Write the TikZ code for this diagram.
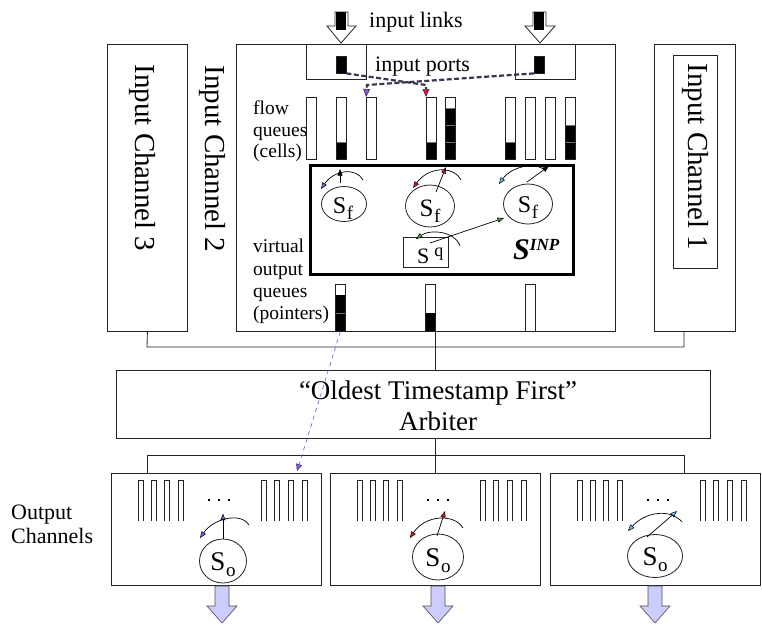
\documentclass[tikz,border=0pt]{standalone}
\usepackage{fontspec}
\setmainfont{Liberation Serif}
\usetikzlibrary{arrows.meta,shapes.geometric,calc}

\definecolor{vpurple}{HTML}{8B55E6}
\definecolor{vred}{HTML}{E3122E}
\definecolor{vblue}{HTML}{6EC6F2}
\definecolor{vgreen}{HTML}{35A235}
\definecolor{lavender}{HTML}{CCCCFF}
\definecolor{dashgray}{HTML}{3B3552}
\definecolor{frame}{HTML}{222222}

\newcommand{\fsz}[1]{\fontsize{#1}{#1}\selectfont}
% scheduler symbol: large S with a lowered index letter
\newcommand{\schedsym}[3]{{\fsz{#1}S}\kern0.5pt\raisebox{-6pt}{\fsz{#2}#3}}

\begin{document}
\begin{tikzpicture}[x=1pt,y=-1pt,
  box/.style={draw=frame, line width=0.8pt, inner sep=0pt, anchor=north west},
  chlabel/.style={inner sep=0pt, rotate=-90, font=\fsz{29}},
  qbar/.style={draw=frame, line width=0.7pt, inner sep=0pt, anchor=north west, minimum width=10pt},
  sched/.style={draw=frame, ellipse, line width=0.8pt, inner sep=0pt},
  thinarrow/.style={line width=0.7pt, -{Triangle[length=6.5pt, width=5pt, line width=0.5pt, color=black, fill=#1]}},
  portdash/.style={dashgray, line width=2.2pt, dash pattern=on 5pt off 2.5pt,
     -{Triangle[length=8pt, width=7pt, line width=0.6pt, fill=#1]}},
  linkarrow/.style={draw=frame, fill=white, line width=0.8pt},
  outarrow/.style={draw=black!70, fill=lavender, line width=0.6pt},
]
\useasboundingbox (0,0) rectangle (762,635);

% ---------------- input channels ----------------
\node[box, minimum width=80pt, minimum height=287pt] (ch3) at (107,44) {};
\node[box, minimum width=379pt, minimum height=287pt] (ch2) at (236,44) {};
\node[box, minimum width=81pt, minimum height=287pt] (ch1) at (654,44) {};
\node[box, minimum width=44pt, minimum height=213pt] (ch1in) at (673,55) {};
\node[chlabel] (ch3t) at (142,158) {Input Channel 3};
\node[chlabel] (ch2t) at (212,159) {Input Channel 2};
\node[chlabel] (ch1t) at (695,157) {Input Channel 1};

% input ports and links
\node[box, minimum width=60pt, minimum height=35pt] (portL) at (306,44) {};
\node[box, minimum width=60pt, minimum height=35pt] (portR) at (515,44) {};
\node[fill=black, draw=frame, inner sep=0pt, minimum width=10pt, minimum height=17pt, anchor=north west] (pinL) at (336,56) {};
\node[fill=black, draw=frame, inner sep=0pt, minimum width=10pt, minimum height=17pt, anchor=north west] (pinR) at (534,56) {};

\draw[linkarrow] (335,12) -- (348,12) -- (348,26) -- (356,26) -- (341,43) -- (327,26) -- (335,26) -- cycle;
\fill[black] (335.5,12) rectangle (346,30);
\draw[linkarrow] (533,12) -- (546,12) -- (546,26) -- (555,26) -- (540,43) -- (525,26) -- (533,26) -- cycle;
\fill[black] (533.5,12) rectangle (544,30);

\node[inner sep=0pt, anchor=base west, font=\fsz{22}] (linkt) at (369,27) {input links};
\node[inner sep=0pt, anchor=base west, font=\fsz{22}] (portt) at (375,71) {input ports};

% ---------------- flow queues ----------------
\node[inner sep=0pt, anchor=north west, align=left, font=\fontsize{19.5}{21.5}\selectfont] (fqt) at (253,101) {flow\\queues\\(cells)};

\foreach \x/\n [count=\i] in {306/0,336/1,366/0,426/1,445/3,505/1,525/0,545/0,565/2} {
  \ifnum\n>0
    \foreach \k in {1,...,\n} {
      \fill[black] (\x,{159-17*\k}) rectangle ({\x+10},{159-17*(\k-1)});
      \draw[black!55, line width=0.5pt] (\x,{159-17*\k}) -- ({\x+10},{159-17*\k});
    }
  \fi
  \node[qbar, minimum height=62pt] (fq\i) at (\x,97) {};
}

% dashed paths from the input ports to their flow queues
\draw[portdash=vpurple] (pinR.south west) -- (367,85) -- (fq3.north west);
\draw[portdash=vred] (pinL.south east) -- (426,85) -- (fq4.north west);

% ---------------- input scheduler block ----------------
\node[draw=black, line width=2.5pt, inner sep=0pt, minimum width=263pt, minimum height=109pt, anchor=north west] (sinp) at (309,164) {};
\node[inner sep=0pt, anchor=base west] (sinpt) at (513,259) {\fsz{30}\bfseries\itshape S\raisebox{9pt}{\fsz{17}INP}};

\node[sched, minimum width=45pt, minimum height=35pt] (sf1) at (344,204) {};
\node[sched, minimum width=49pt, minimum height=42pt] (sf2) at (430,206) {};
\node[sched, minimum width=49pt, minimum height=40pt] (sf3) at (528,204) {};
\node[inner sep=0pt] (sf1t) at ($(sf1)+(-1,5)$) {\schedsym{24}{19}{f}};
\node[inner sep=0pt] (sf2t) at ($(sf2)+(0,5)$) {\schedsym{25}{19}{f}};
\node[inner sep=0pt] (sf3t) at ($(sf3)+(0,4)$) {\schedsym{24}{19}{f}};

\node[box, minimum width=45pt, minimum height=30pt] (sq) at (403,237) {};
\node[inner sep=0pt, anchor=base west] (sqt) at (417,263) {{\fsz{22}S}\hspace{5pt}\raisebox{7pt}{\fsz{18}q}};

% selection arrows inside the scheduler block
\coordinate (a1s) at (340,183);  \coordinate (a1e) at (340,169);
\coordinate (c1s) at (363,180);  \coordinate (c1e) at (321,189);
\draw[thinarrow=black] (a1s) -- (a1e);
\draw[thinarrow=vpurple] (c1s) .. controls (356,167) and (334,170) .. (c1e);

\coordinate (a2s) at (436,192);  \coordinate (a2e) at (446,167);
\coordinate (c2s) at (461,180);  \coordinate (c2e) at (413,188);
\draw[thinarrow=vred] (a2s) -- (a2e);
\draw[thinarrow=vred] (c2s) .. controls (453,165) and (428,167) .. (c2e);

\coordinate (a3s) at (527,182);  \coordinate (a3e) at (549,166);
\coordinate (c3s) at (545,170);  \coordinate (c3e) at (499,184);
\draw[thinarrow=black] (a3s) -- (a3e);
\draw[thinarrow=vblue] (c3s) .. controls (535,162) and (512,166) .. (c3e);

\coordinate (aqs) at (430,243);  \coordinate (aqe) at (504,218);
\coordinate (cqs) at (460,246);  \coordinate (cqe) at (416,239);
\draw[thinarrow=vgreen] (aqs) -- (aqe);
\draw[thinarrow=vgreen] (cqs) .. controls (455,231) and (430,229) .. (cqe);

% ---------------- virtual output queues ----------------
\node[inner sep=0pt, anchor=north west, align=left, font=\fontsize{19.5}{22.3}\selectfont] (voqt) at (253,239) {virtual\\output\\queues\\(pointers)};

\fill[black] (335,295) rectangle (345,331);
\draw[black!55, line width=0.5pt] (335,313) -- (345,313);
\fill[black] (425,313) rectangle (435,331);
\node[qbar, minimum height=47pt] (voq1) at (335,284) {};
\node[qbar, minimum height=47pt] (voq2) at (425,284) {};
\node[qbar, minimum height=47pt] (voq3) at (525,284) {};

% ---------------- arbiter ----------------
\coordinate (mid) at (435,0);
\coordinate (busL) at (147,347);
\coordinate (busR) at (684,347);
\node[box, minimum width=594pt, minimum height=68pt] (arb) at (116,370) {};
\node[inner sep=0pt, align=center, font=\fontsize{27}{31}\selectfont] (arbt) at (438,406) {“Oldest Timestamp First”\\Arbiter};

\draw[frame, line width=0.8pt] (ch3.south) -- (busL) -- (busR) -- (ch1.south -| busR);
\draw[frame, line width=0.8pt] (ch2.south -| mid) -- (arb.north -| mid);

% ---------------- output channels ----------------
\node[inner sep=0pt, anchor=north west, align=left, font=\fontsize{22}{24}\selectfont] (outt) at (11,505) {Output\\Channels};

\node[box, minimum width=210pt, minimum height=112pt] (ob1) at (111,473) {};
\node[box, minimum width=210pt, minimum height=112pt] (ob2) at (330,473) {};
\node[box, minimum width=210pt, minimum height=112pt] (ob3) at (550,473) {};

\coordinate (obL) at (147,455);
\coordinate (obR) at (684,455);
\draw[frame, line width=0.8pt] (arb.south -| mid) -- (mid |- obL);
\draw[frame, line width=0.8pt] (ob1.north -| obL) -- (obL) -- (obR) -- (ob3.north -| obR);
\draw[frame, line width=0.8pt] (mid |- obL) -- (ob2.north -| mid);

% output queues and dots
\foreach \bx in {111,330,550} {
  \foreach \dx in {27,40,53,67,150,163,177,191}
    \draw[frame, line width=0.6pt] ({\bx+\dx},521) -- ({\bx+\dx},480) -- ({\bx+\dx+5},480) -- ({\bx+\dx+5},521);
  \foreach \dx in {98,108,118}
    \fill[black] ({\bx+\dx-1.3},498.7) rectangle +(2.6,2.6);
}

% output schedulers
\node[sched, minimum width=47pt, minimum height=44pt] (so1) at (223,561) {};
\node[sched, minimum width=51pt, minimum height=46pt] (so2) at (438,557) {};
\node[sched, minimum width=55pt, minimum height=43pt] (so3) at (655,556) {};
\node[inner sep=0pt] (so1t) at ($(so1)+(0,4)$) {\schedsym{27}{19}{o}};
\node[inner sep=0pt] (so2t) at ($(so2)+(0,4)$) {\schedsym{27}{19}{o}};
\node[inner sep=0pt] (so3t) at ($(so3)+(0,4)$) {\schedsym{27}{19}{o}};

\draw[thinarrow=vpurple] (so1.north) -- ($(so1.north)+(0,-25)$);
\coordinate (d1s) at (249,525);  \coordinate (d1e) at (200,538);
\draw[thinarrow=vpurple] (d1s) .. controls (241,512) and (214,518) .. (d1e);

\coordinate (o2s) at (437,536);  \coordinate (o2e) at (445,511);
\coordinate (d2s) at (463,528);  \coordinate (d2e) at (410,538);
\draw[thinarrow=vred] (o2s) -- (o2e);
\draw[thinarrow=vred] (d2s) .. controls (454,513) and (425,515) .. (d2e);

\coordinate (o3s) at (647,537);  \coordinate (o3e) at (677,511);
\coordinate (d3s) at (682,522);  \coordinate (d3e) at (628,531);
\draw[thinarrow=vblue] (o3s) -- (o3e);
\draw[thinarrow=vblue] (d3s) .. controls (670,508) and (645,512) .. (d3e);

% pointer from a virtual output queue to its output channel
\coordinate (voqtip) at (297,471);
\draw[vpurple, line width=0.7pt, dash pattern=on 4pt off 4pt,
  -{Triangle[length=7pt, width=6pt, line width=0.5pt, color=dashgray, fill=vpurple]}] (voq1.south) -- (voqtip);

% departing cells
\foreach \c in {222,438,655}
  \draw[outarrow] ({\c-7},586) -- ({\c+7},586) -- ({\c+7},606) -- ({\c+15},606) -- (\c,623) -- ({\c-15},606) -- ({\c-7},606) -- cycle;

\end{tikzpicture}
\end{document}
